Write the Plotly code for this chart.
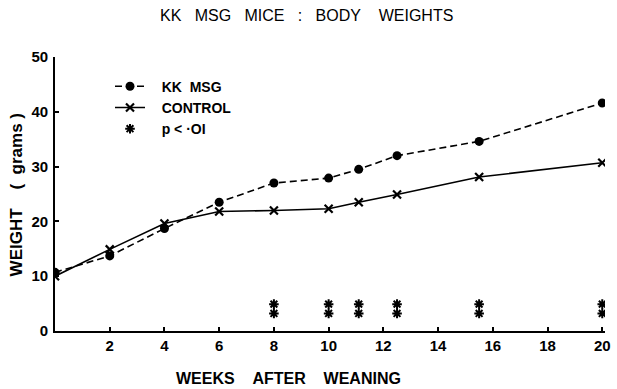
import plotly.graph_objects as go

weeks_msg = [0, 2, 4, 6, 8, 10, 11.1, 12.5, 15.5, 20]
msg_weight = [10.7, 13.7, 18.7, 23.5, 27.0, 27.9, 29.5, 32.0, 34.6, 41.6]
weeks_ctrl = [0, 2, 4, 6, 8, 10, 11.1, 12.5, 15.5, 20]
ctrl_weight = [10.0, 14.9, 19.6, 21.8, 22.0, 22.3, 23.5, 24.9, 28.1, 30.7]
sig_weeks = [8, 10, 11.1, 12.5, 15.5, 20]
sig_levels = [3.2, 4.9]
x_ticks = [2, 4, 6, 8, 10, 12, 14, 16, 18, 20]
y_ticks = [0, 10, 20, 30, 40, 50]

FONT = "Liberation Sans"
NB = "\u00a0"

sig_x = [w for w in sig_weeks for _ in sig_levels]
sig_y = [lv for _ in sig_weeks for lv in sig_levels]

fig = go.Figure()
fig.add_trace(go.Scatter(
    x=weeks_msg, y=msg_weight, mode="lines+markers",
    name=NB * 3 + "KK" + NB * 2 + "MSG",
    line=dict(color="black", width=1.6, dash="7px,4px"),
    marker=dict(symbol="circle", size=9, color="black"),
))
fig.add_trace(go.Scatter(
    x=weeks_ctrl, y=ctrl_weight, mode="lines+markers",
    name=NB * 3 + "CONTROL",
    line=dict(color="black", width=1.6),
    marker=dict(symbol="x-thin", size=8, color="black",
                line=dict(color="black", width=2.2)),
))
fig.add_trace(go.Scatter(
    x=sig_x, y=sig_y, mode="markers",
    name=NB * 3 + "p" + NB + "&lt;" + NB + "\u00b7OI",
    marker=dict(symbol="asterisk-open", size=8, color="black",
                line=dict(color="black", width=2)),
))

fig.update_layout(
    width=617, height=389,
    margin=dict(l=55, r=6, t=57, b=58),
    paper_bgcolor="white", plot_bgcolor="white",
    font=dict(family=FONT, color="black", size=14),
    showlegend=True,
    legend=dict(x=0.10, y=0.95, xanchor="left", yanchor="top",
                bgcolor="rgba(0,0,0,0)",
                font=dict(size=14, family=FONT, weight="bold"),
                itemwidth=30),
    xaxis=dict(range=[0, 20.1], tickvals=x_ticks, ticks="inside", ticklen=4,
               tickwidth=1.5, tickcolor="black", showline=True, linecolor="black",
               linewidth=1.8, showgrid=False, zeroline=False,
               tickfont=dict(size=15, family=FONT, weight="bold")),
    yaxis=dict(range=[0, 50], tickvals=y_ticks, ticks="inside", ticklen=4,
               tickwidth=1.5, tickcolor="black", showline=True, linecolor="black",
               linewidth=1.8, showgrid=False, zeroline=False, ticklabelstandoff=2,
               tickfont=dict(size=15, family=FONT, weight="bold")),
    annotations=[
        dict(text=(NB * 3).join(["KK", "MSG", "MICE", ":", "BODY", NB + "WEIGHTS"]),
             x=(309 - 55) / 556, y=(331 - 15) / 274, xref="paper", yref="paper",
             xanchor="center", yanchor="middle",
             showarrow=False, font=dict(size=16, family=FONT)),
        dict(text=(NB * 4).join(["WEEKS", "AFTER", "WEANING"]),
             x=(291 - 55) / 556, y=-(378 - 331) / 274, xref="paper", yref="paper",
             xanchor="center", yanchor="middle",
             showarrow=False, font=dict(size=16, family=FONT, weight="bold")),
        dict(text="WEIGHT" + NB * 4 + "(" + NB * 2 + "grams" + NB + ")",
             x=(17 - 55) / 556, y=(331 - 195) / 274, xref="paper", yref="paper",
             xanchor="center", yanchor="middle",
             showarrow=False, textangle=-90,
             font=dict(size=17, family=FONT, weight="bold")),
    ],
)

fig.write_html("out.html")
